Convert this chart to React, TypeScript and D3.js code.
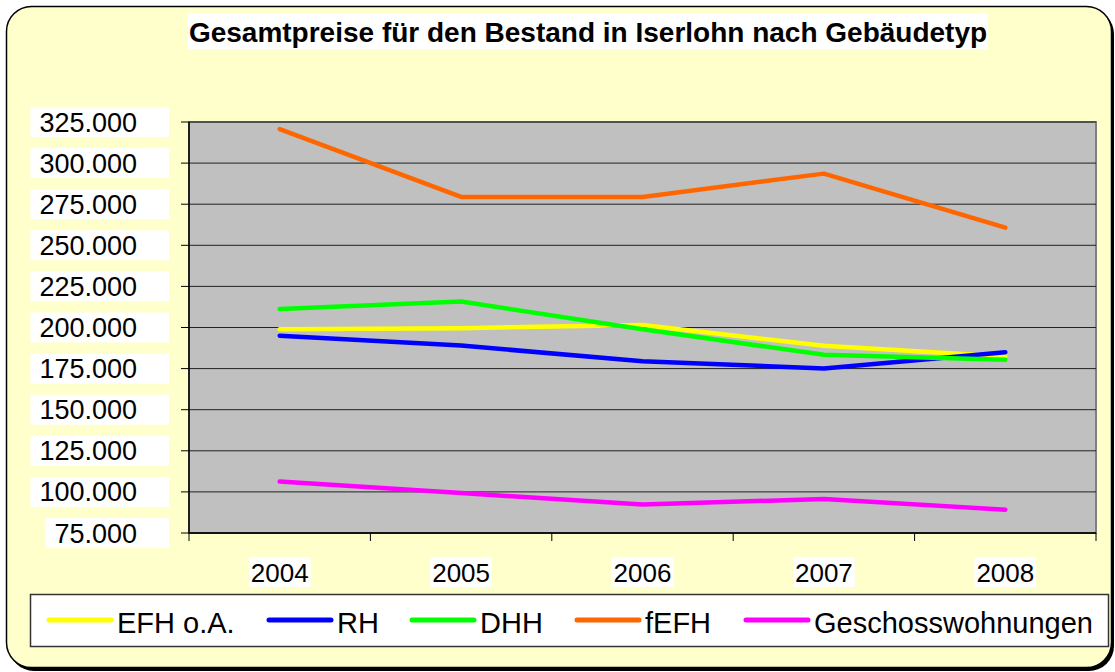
import React from "react";
import * as d3 from "d3";

// ---- Data ----
const years = ["2004", "2005", "2006", "2007", "2008"];
const efhOA = [199000, 199600, 201500, 188900, 182400];
const rh = [195000, 189000, 179500, 175100, 185000];
const dhh = [211200, 215800, 198900, 183400, 180400];
const fefh = [320700, 279400, 279400, 293600, 260700];
const geschoss = [106300, 99300, 92300, 95700, 89200];
const yTickValues = [75000, 100000, 125000, 150000, 175000, 200000, 225000, 250000, 275000, 300000, 325000];
const seriesNames = ["EFH o.A.", "RH", "DHH", "fEFH", "Geschosswohnungen"];
const seriesColors = ["#FFFF00", "#0000FF", "#00FF00", "#FF6600", "#FF00FF"];
const title = "Gesamtpreise für den Bestand in Iserlohn nach Gebäudetyp";

const W = 1115;
const H = 672;
const plot = { left: 189, right: 1096, top: 122, bottom: 533 };
const legendX = [49, 269, 412, 577, 746];

const fmt = d3
  .formatLocale({ decimal: ",", thousands: ".", grouping: [3], currency: ["", "€"] })
  .format(",");

export default function App() {
  const series = [efhOA, rh, dhh, fefh, geschoss];
  const x = d3.scaleBand<string>().domain(years).range([plot.left, plot.right]).padding(0);
  const y = d3.scaleLinear().domain([75000, 325000]).range([plot.bottom, plot.top]);
  const line = d3
    .line<number>()
    .x((_, i) => (x(years[i]) as number) + x.bandwidth() / 2)
    .y((d) => y(d));
  const font = "'Liberation Sans', Arial, Helvetica, sans-serif";
  const yFs = 27;
  const xFs = 26;
  const boundaries = [...years.map((yr) => x(yr) as number), plot.right];

  return (
    <div style={{ position: "fixed", left: 0, top: 0, width: W, height: H }}>
      <svg width={W} height={H} style={{ display: "block" }} fontFamily={font}>
        <rect x={0} y={0} width={W} height={H} fill="#ffffff" />
        {/* frame with shadow */}
        <rect x={9} y={9} width={1105} height={662} rx={25} fill="#000" />
        <rect x={6.5} y={6.5} width={1105} height={661} rx={25} fill="#FFFFCC" stroke="#000" strokeWidth={1.5} />

        {/* title */}
        <rect x={188} y={13} width={800} height={36} fill="#ffffff" />
        <text x={588} y={42} textAnchor="middle" fontSize={28} fontWeight="bold" fill="#000">
          {title}
        </text>

        {/* plot area */}
        <rect
          x={plot.left}
          y={plot.top}
          width={plot.right - plot.left}
          height={plot.bottom - plot.top}
          fill="#C0C0C0"
          stroke="#808080"
          strokeWidth={2}
        />
        {yTickValues.map((t) => (
          <line key={"g" + t} x1={plot.left} x2={plot.right} y1={y(t)} y2={y(t)} stroke="#222" strokeWidth={1} />
        ))}
        {/* axes */}
        <line x1={plot.left} x2={plot.left} y1={plot.top} y2={plot.bottom} stroke="#000" strokeWidth={1.5} />
        <line x1={plot.left} x2={plot.right} y1={plot.bottom} y2={plot.bottom} stroke="#000" strokeWidth={1.5} />
        {yTickValues.map((t) => (
          <line key={"yt" + t} x1={plot.left - 8} x2={plot.left} y1={y(t)} y2={y(t)} stroke="#000" strokeWidth={1} />
        ))}
        {boundaries.map((bx, i) => (
          <line key={"xt" + i} x1={bx} x2={bx} y1={plot.bottom} y2={plot.bottom + 8} stroke="#000" strokeWidth={1} />
        ))}

        {/* y labels */}
        {yTickValues.map((t) => {
          const label = fmt(t);
          const digits = label.replace(/\./g, "").length;
          const dots = label.length - digits;
          const tw = (digits * 0.556 + dots * 0.278) * yFs;
          return (
            <g key={"yl" + t}>
              <rect x={137 - tw - 9} y={y(t) - 15} width={169 - (137 - tw - 9)} height={30} fill="#fff" />
              <text x={137} y={y(t) + 9.5} textAnchor="end" fontSize={yFs} fill="#000">
                {label}
              </text>
            </g>
          );
        })}

        {/* x labels */}
        {years.map((yr) => {
          const cx = (x(yr) as number) + x.bandwidth() / 2;
          const tw = yr.length * 0.556 * xFs;
          return (
            <g key={"xl" + yr}>
              <rect x={cx - tw / 2 - 2} y={557} width={tw + 4} height={30} fill="#fff" />
              <text x={cx} y={582} textAnchor="middle" fontSize={xFs} fill="#000">
                {yr}
              </text>
            </g>
          );
        })}

        {/* lines */}
        {series.map((s, i) => (
          <path
            key={"s" + i}
            d={line(s) as string}
            fill="none"
            stroke={seriesColors[i]}
            strokeWidth={4.5}
            strokeLinejoin="round"
            strokeLinecap="round"
          />
        ))}

        {/* legend */}
        <rect x={30.5} y={594.5} width={1078} height={52} fill="#fff" stroke="#333" strokeWidth={1.5} />
        {seriesNames.map((name, i) => (
          <g key={"lg" + i}>
            <line
              x1={legendX[i]}
              x2={legendX[i] + 62}
              y1={620}
              y2={620}
              stroke={seriesColors[i]}
              strokeWidth={5}
              strokeLinecap="round"
            />
            <text x={legendX[i] + 68} y={632.5} fontSize={29} fill="#000">
              {name}
            </text>
          </g>
        ))}
      </svg>
    </div>
  );
}
